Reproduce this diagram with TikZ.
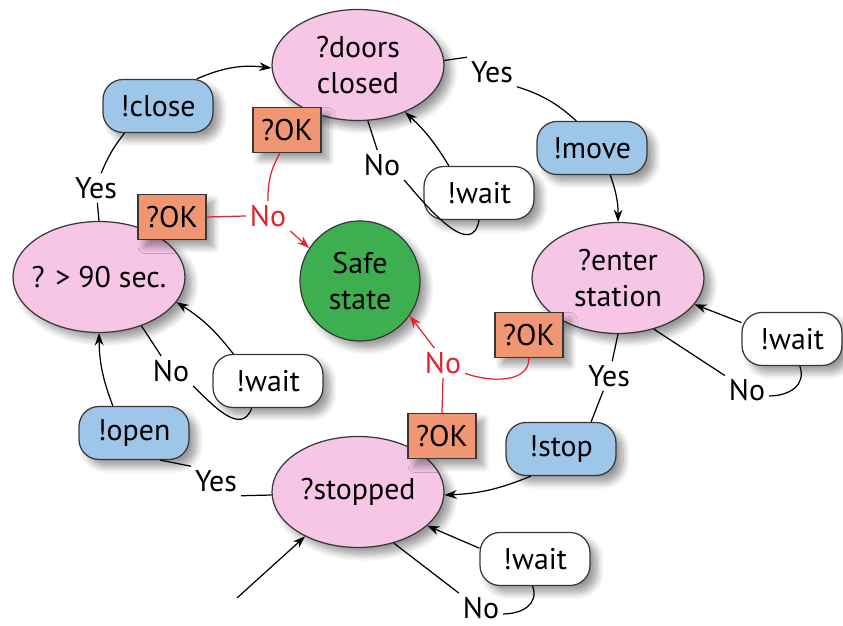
\documentclass[tikz,border=0pt]{standalone}
\usepackage{fontspec}
\setmainfont{PT Sans}
\usetikzlibrary{arrows.meta,shapes.geometric,shadows.blur}

\definecolor{qpink}{RGB}{247,198,231}
\definecolor{actblue}{RGB}{158,198,232}
\definecolor{okorange}{RGB}{240,150,115}
\definecolor{safegreen}{RGB}{62,175,80}
\definecolor{failred}{RGB}{225,35,50}
\definecolor{edge}{RGB}{55,55,55}

\begin{document}
\begin{tikzpicture}[
  x=0.02cm, y=0.02cm,
  every node/.style={font=\fontsize{17}{20.5}\selectfont},
  >={Stealth[length=7pt,width=5pt]},
  line width=0.7pt,
  softshadow/.style={blur shadow={shadow blur steps=8, shadow blur radius=4pt, shadow xshift=4pt, shadow yshift=-4pt, shadow opacity=40}},
  query/.style={ellipse, draw=edge, fill=qpink, minimum width=3.44cm, minimum height=2.22cm, inner sep=-4pt, align=center, softshadow},
  action/.style={rectangle, rounded corners=0.4cm, draw=edge, fill=actblue, minimum width=2.2cm, minimum height=1.06cm, softshadow},
  waitbox/.style={action, fill=white},
  okbox/.style={rectangle, draw=edge, fill=okorange, minimum width=1.36cm, minimum height=0.9cm, softshadow},
  lbl/.style={inner sep=2pt},
  fail/.style={draw=failred, text=failred}
]
\useasboundingbox (0,0) rectangle (843,626);

% ---------- Question states ----------
\node[query] (doors) at (358,561) {?doors\\closed};
\node[query] (enter) at (618,348) {?enter\\station};
\node[query] (stopped) at (358,134) {?stopped};
\node[query] (ninety) at (99,349) {? > 90 sec.};

% ---------- Safe state ----------
\node[circle, draw=edge, fill=safegreen, minimum size=2.4cm, align=center, inner sep=0pt, softshadow] (safe) at (360,345) {Safe\\state};

% ---------- Actions ----------
\node[action] (close) at (158,520) {!close};
\node[action] (move) at (592,478) {!move};
\node[action] (stop) at (561,177) {!stop};
\node[action] (open) at (134,193) {!open};

% ---------- Wait boxes ----------
\node[waitbox] (waitT) at (479,433) {!wait};
\node[waitbox] (waitL) at (268,245) {!wait};
\node[waitbox, minimum width=2.0cm] (waitR) at (792,287) {!wait};
\node[waitbox] (waitB) at (535,67) {!wait};

% ---------- ?OK checks ----------
\node[okbox] (okT) at (287,496) {?OK};
\node[okbox] (okL) at (172,409) {?OK};
\node[okbox] (okR) at (529,291) {?OK};
\node[okbox] (okB) at (442,190) {?OK};

% ---------- Branch labels ----------
\node[lbl] (yesT) at (492,554) {Yes};
\node[lbl] (noT) at (382,461) {No};
\node[lbl] (yesL) at (96,438) {Yes};
\node[lbl] (yesR) at (609,250) {Yes};
\node[lbl] (noR) at (747,236) {No};
\node[lbl] (noL) at (171,255) {No};
\node[lbl] (yesB) at (216,145) {Yes};
\node[lbl] (noB) at (481,18) {No};
\node[lbl, text=failred] (noC) at (268,410) {No};
\node[lbl, text=failred] (noM) at (443,263) {No};

% ---------- Main cycle ----------
\draw[->] (close.35) to[bend left=15] (doors.182);
\draw (doors.3) -- (yesT.north west);
\draw (yesT.south east) to[bend left=12] (move.120);
\draw[->] (move.-56) to[bend left=10] (enter.north);
\draw (enter.south) -- (yesR);
\draw (yesR) -- (stop.42);
\draw[->] (stop.222) to[bend left=10] (stopped.-2);
\draw (stopped.182) -- (yesB.south east);
\draw (yesB.north west) -- (open.-46);
\draw[->] (open.128) to[bend left=10] (ninety.south);
\draw (ninety.north) -- (yesL);
\draw (yesL) to[bend left=8] (close.219);

% ---------- Start ----------
\coordinate (start) at (237,28);
\draw[->] (start) -- (stopped.220);

% ---------- Wait loops ----------
\draw (doors.-80) -- (noT);
\draw (noT.south east) to[out=-50, in=-100, looseness=1.2] (waitT.south);
\draw[->] (waitT.138) to[bend right=8] (doors.-45);

\draw (enter.-55) -- (noR);
\draw (noR.-15) to[out=0, in=-70, looseness=1.2] (waitR.-74);
\draw[->] (waitR.162) -- (enter.-19);

\draw (ninety.-49) -- (noL);
\draw (noL.south east) to[out=-45, in=-110, looseness=1.2] (waitL.239);
\draw[->] (waitL.142) to[bend right=10] (ninety.-18);

\draw (stopped.-55) -- (noB.north west);
\draw (noB.-15) to[out=0, in=-70, looseness=1.2] (waitB.-95);
\draw[->] (waitB.169) -- (stopped.-26);

% ---------- Failure paths ----------
\draw[fail] (okT.-107) to[bend right=15] (noC.north);
\draw[fail] (okL.east) -- (noC.west);
\draw[fail, ->] (noC.south east) -- (safe.147);

\draw[fail] (okR.south) to[out=-90, in=-20] (noM.-25);
\draw[fail] (okB.north) -- (noM.south);
\draw[fail, ->] (noM.120) -- (safe.-35);

\end{tikzpicture}
\end{document}
